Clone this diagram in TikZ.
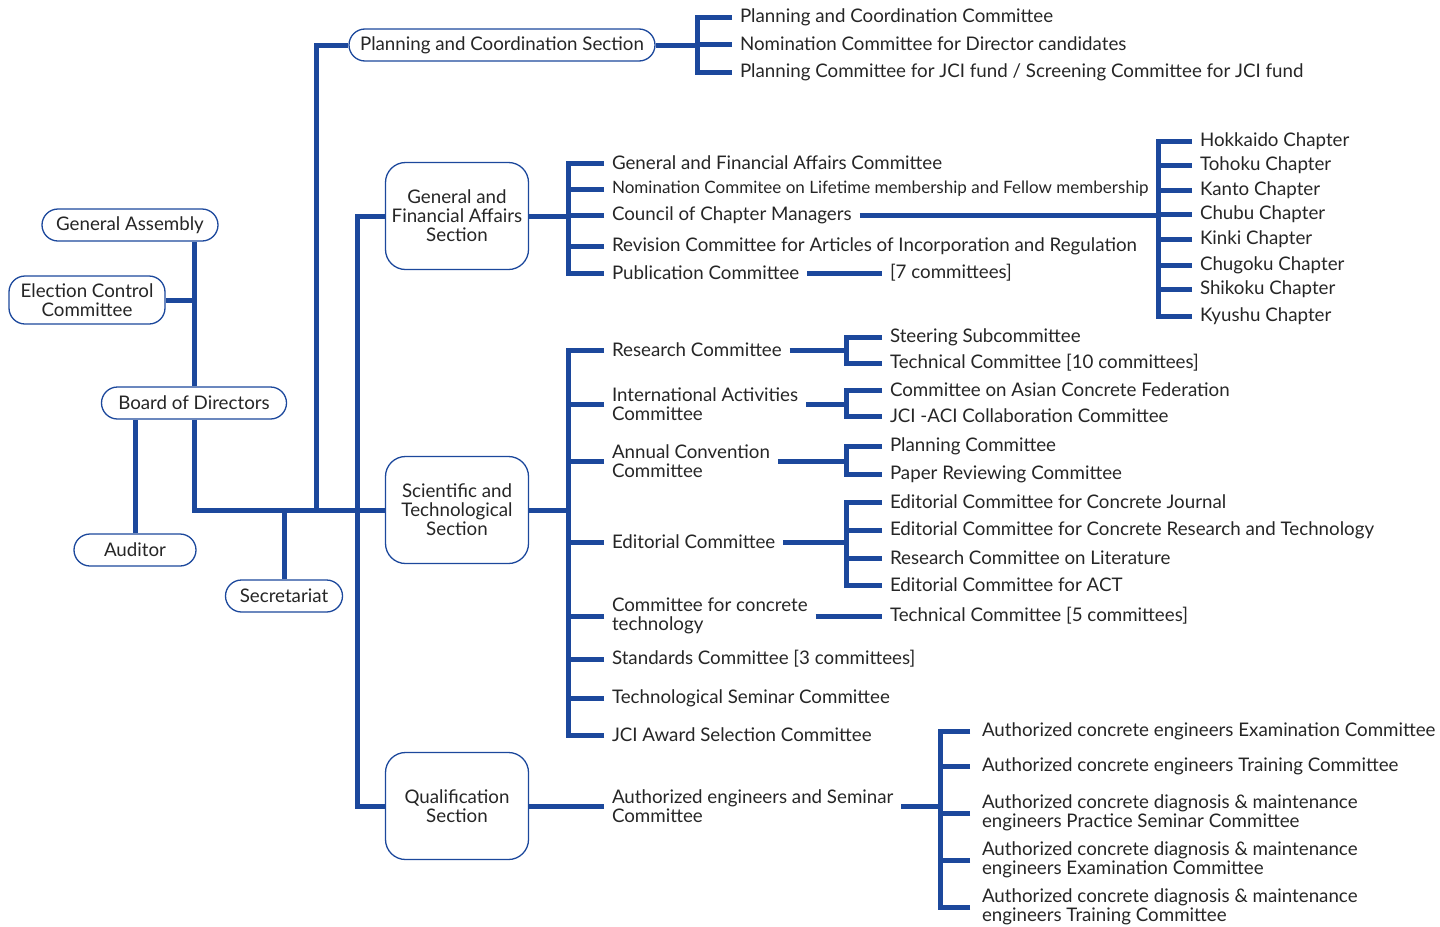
\documentclass[tikz,border=0pt]{standalone}
\usepackage{fontspec}
\setmainfont{Lato}
\usepackage{tikz}
\usetikzlibrary{positioning,calc}
\definecolor{jciblue}{RGB}{28,72,156}
\definecolor{jcitext}{RGB}{38,38,38}
\newcommand\orgfont{\fontsize{18.8}{19}\selectfont}
\tikzset{
  orgline/.style={draw=jciblue, line width=5bp},
  orgbar/.style={orgline, line cap=rect},
  pill/.style={draw=jciblue, line width=1.3bp, fill=white, rounded corners=16bp,
    minimum height=32bp, inner xsep=4bp, inner ysep=2bp, text=jcitext, font=\orgfont, align=center},
  secbox/.style={draw=jciblue, line width=1.3bp, fill=white, rounded corners=20bp,
    minimum width=143bp, minimum height=107bp, inner sep=2bp, text=jcitext, font=\orgfont, align=center},
  lbl/.style={anchor=west, inner sep=0pt, outer xsep=8bp, text=jcitext, font=\orgfont, align=left},
  qlbl/.style={lbl, outer xsep=12bp}
}
\begin{document}
\begin{tikzpicture}[x=1bp,y=-1bp]
\useasboundingbox (0,0) rectangle (1440,926);

% left side
\node[pill, minimum width=176bp] (ga) at (130,225) {General Assembly};
\node[pill, minimum width=156bp, minimum height=48bp] (ecc) at (87,300) {Election Control\\Committee};
\node[pill, minimum width=185bp] (bod) at (194,403) {Board of Directors};
\node[pill, minimum width=122bp] (aud) at (135,550) {Auditor};
\node[pill, minimum width=117bp] (sec) at (284,596) {Secretariat};

% sections
\node[pill, minimum width=306bp] (pcs) at (502,45) {Planning and Coordination Section};
\node[secbox] (gfa) at (457,216) {General and\\Financial Affairs\\Section};
\node[secbox] (sci) at (457,510) {Scientific and\\Technological\\Section};
\node[secbox] (qual) at (457,806) {Qualification\\Section};

\coordinate (pk) at (316,0);
\coordinate (trunk) at (357,0);
\coordinate (pbk) at (697,0);
\coordinate (gbk) at (568,0);
\coordinate (chbk) at (1158,0);
\coordinate (subk) at (846,0);
\coordinate (qbk) at (940,0);

\draw[orgline] (bod.north) -- (bod.north |- ga.south);
\draw[orgline] (ecc.east) -- (ecc.east -| bod.north);
\draw[orgline] (aud.north) -- (aud.north |- bod.south);
\draw[orgline] (bod.south) -- (bod.south |- sci.west) -- (sci.west);
\draw[orgline] (sec.north) -- (sec.north |- sci.west);
\draw[orgline] (pcs.west) -| (pk |- sci.west);
\draw[orgline] (gfa.west) -- (gfa.west -| trunk) -- (qual.west -| trunk) -- (qual.west);

% planning and coordination
\node[lbl] (pc1) at (732,17) {Planning and Coordination Committee};
\node[lbl] (pc2) at (732,44) {Nomination Committee for Director candidates};
\node[lbl] (pc3) at (732,72) {Planning Committee for JCI fund / Screening Committee for JCI fund};
\draw[orgline] (pcs.east) -- (pcs.east -| pbk);
\draw[orgbar] (pc1.west -| pbk) -- (pc3.west -| pbk);
\foreach \n in {pc1,pc2,pc3}
  \draw[orgline] (\n.west) -- (\n.west -| pbk);

% general and financial affairs
\node[lbl] (ga1) at (604,163) {General and Financial Affairs Committee};
\node[lbl, font=\fontsize{17.1}{18}\selectfont] (ga2) at (604,189) {Nomination Commitee on Lifetime membership and Fellow membership};
\node[lbl] (ga3) at (604,215) {Council of Chapter Managers};
\node[lbl] (ga4) at (604,246) {Revision Committee for Articles of Incorporation and Regulation};
\node[lbl] (ga5) at (604,273) {Publication Committee};
\node[lbl] (seven) at (882,273) {[7 committees]};
\draw[orgline] (gfa.east) -- (gfa.east -| gbk);
\draw[orgbar] (ga1.west -| gbk) -- (ga5.west -| gbk);
\foreach \n in {ga1,ga2,ga3,ga4,ga5}
  \draw[orgline] (\n.west) -- (\n.west -| gbk);
\draw[orgline] (ga5.east) -- (seven.west);

% chapters
\foreach \n/\y/\t in {ch1/141/Hokkaido, ch2/165/Tohoku, ch3/190/Kanto, ch4/214/Chubu,
                      ch5/239/Kinki, ch6/265/Chugoku, ch7/289/Shikoku, ch8/316/Kyushu}
  \node[lbl] (\n) at (1192,\y) {\t{} Chapter};
\draw[orgline] (ga3.east) -- (ga3.east -| chbk);
\draw[orgbar] (ch1.west -| chbk) -- (ch8.west -| chbk);
\foreach \n in {ch1,ch2,ch3,ch4,ch5,ch6,ch7,ch8}
  \draw[orgline] (\n.west) -- (\n.west -| chbk);

% scientific and technological
\node[lbl] (sc1) at (604,350) {Research Committee};
\node[lbl] (sc2) at (604,404) {International Activities\\Committee};
\node[lbl] (sc3) at (604,461) {Annual Convention\\Committee};
\node[lbl] (sc4) at (604,542) {Editorial Committee};
\node[lbl] (sc5) at (604,616) {Committee for concrete\\technology};
\node[lbl] (sc6) at (604,659) {Standards Committee [3 committees]};
\node[lbl] (sc7) at (604,698) {Technological Seminar Committee};
\node[lbl] (sc8) at (604,735) {JCI Award Selection Committee};
\draw[orgline] (sci.east) -- (sci.east -| gbk);
\draw[orgbar] (sc1.west -| gbk) -- (sc8.west -| gbk);
\foreach \n in {sc1,sc2,sc3,sc4,sc5,sc6,sc7,sc8}
  \draw[orgline] (\n.west) -- (\n.west -| gbk);

% sub committees
\node[lbl] (r1) at (882,337) {Steering Subcommittee};
\node[lbl] (r2) at (882,363) {Technical Committee [10 committees]};
\node[lbl] (i1) at (882,390) {Committee on Asian Concrete Federation};
\node[lbl] (i2) at (882,416) {JCI -ACI Collaboration Committee};
\node[lbl] (a1) at (882,446) {Planning Committee};
\node[lbl] (a2) at (882,474) {Paper Reviewing Committee};
\node[lbl] (e1) at (882,502) {Editorial Committee for Concrete Journal};
\node[lbl] (e2) at (882,530) {Editorial Committee for Concrete Research and Technology};
\node[lbl] (e3) at (882,558) {Research Committee on Literature};
\node[lbl] (e4) at (882,585) {Editorial Committee for ACT};
\node[lbl] (t5) at (882,616) {Technical Committee [5 committees]};
\foreach \p/\a/\b in {sc1/r1/r2, sc2/i1/i2, sc3/a1/a2, sc4/e1/e4} {
  \draw[orgline] (\p.east) -- (\p.east -| subk);
  \draw[orgbar] (\a.west -| subk) -- (\b.west -| subk);
}
\foreach \n in {r1,r2,i1,i2,a1,a2,e1,e2,e3,e4}
  \draw[orgline] (\n.west) -- (\n.west -| subk);
\draw[orgline] (sc5.east) -- (t5.west);

% qualification
\node[lbl] (qa) at (604,806) {Authorized engineers and Seminar\\Committee};
\node[qlbl] (q1) at (970,731) {Authorized concrete engineers Examination Committee};
\node[qlbl] (q2) at (970,766) {Authorized concrete engineers Training Committee};
\node[qlbl] (q3) at (970,813) {Authorized concrete diagnosis \& maintenance\\engineers Practice Seminar Committee};
\node[qlbl] (q4) at (970,860) {Authorized concrete diagnosis \& maintenance\\engineers Examination Committee};
\node[qlbl] (q5) at (970,907) {Authorized concrete diagnosis \& maintenance\\engineers Training Committee};
\draw[orgline] (qual.east) -- (qa.west);
\draw[orgline] (qa.east) -- (qa.east -| qbk);
\draw[orgbar] (q1.west -| qbk) -- (q5.west -| qbk);
\foreach \n in {q1,q2,q3,q4,q5}
  \draw[orgline] (\n.west) -- (\n.west -| qbk);
\end{tikzpicture}
\end{document}
